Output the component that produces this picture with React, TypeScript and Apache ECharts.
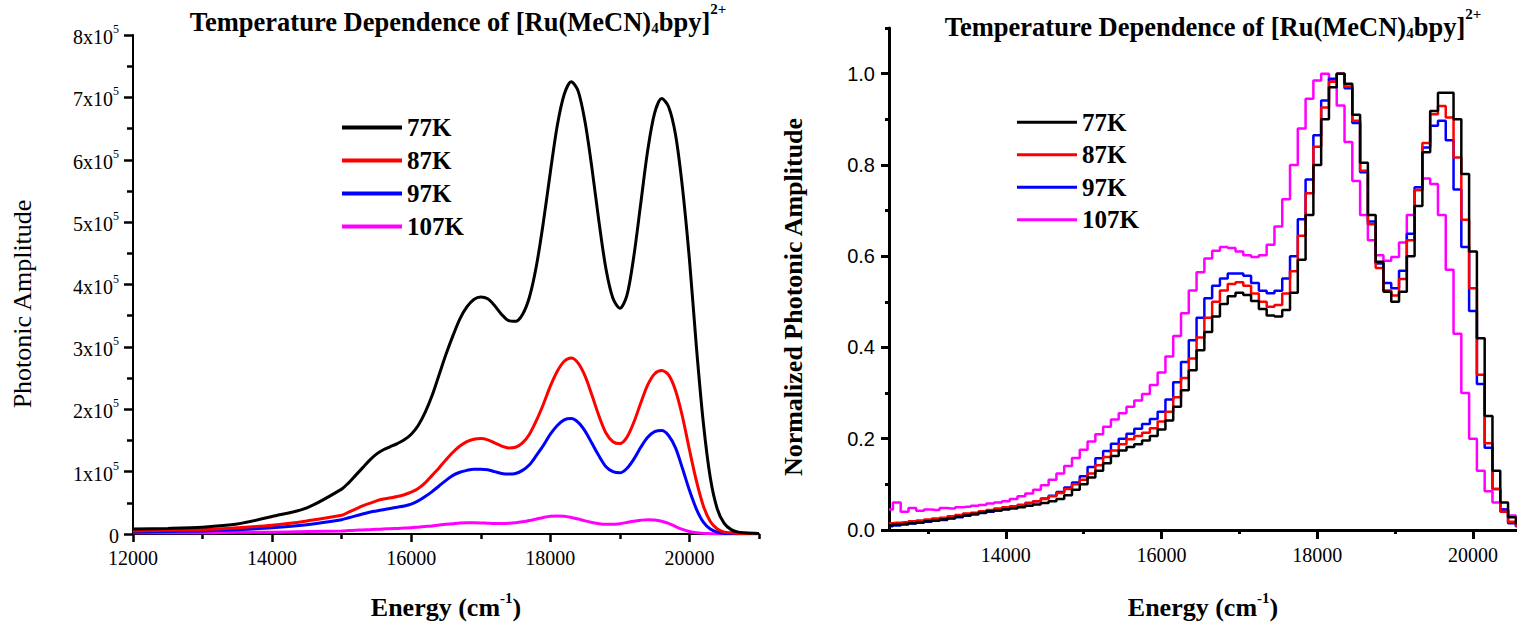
import React, { useEffect, useRef } from 'react';
import * as echarts from 'echarts';

const SERIF = '"Liberation Serif", "Times New Roman", serif';
const SANS = '"Liberation Sans", Arial, sans-serif';

// ---------- Left panel: raw amplitude (units of 10^5) ----------
const LEFT_ENERGY = [
  12000, 12500, 13000, 13500, 14000, 14500,
  15000, 15100, 15200, 15300, 15400, 15500, 15600, 15700, 15800, 15900,
  16000, 16100, 16200, 16300, 16400, 16500, 16600, 16700, 16800, 16900,
  17000, 17100, 17200, 17300, 17400, 17500, 17600, 17700, 17800, 17900,
  18000, 18100, 18200, 18300, 18400, 18500, 18600, 18700, 18800, 18900,
  19000, 19100, 19200, 19300, 19400, 19500, 19600, 19700, 19800, 19900,
  20000, 20100, 20200, 20300, 20400, 20500, 20600, 20700, 20800,
  21000,
];
const LEFT_77K = [
  0.08, 0.09, 0.11, 0.16, 0.28, 0.42,
  0.72, 0.82, 0.94, 1.06, 1.18, 1.28, 1.35, 1.40, 1.45, 1.51,
  1.60, 1.74, 1.95, 2.22, 2.55, 2.88, 3.18, 3.45, 3.64, 3.76,
  3.80, 3.77, 3.66, 3.52, 3.42, 3.41, 3.52, 3.80, 4.30, 5.00,
  5.80, 6.55, 7.05, 7.25, 7.10, 6.60, 5.85, 5.00, 4.25, 3.78,
  3.62, 3.82, 4.45, 5.30, 6.15, 6.75, 6.98, 6.85, 6.40, 5.55,
  4.40, 3.00, 1.78, 0.90, 0.40, 0.17, 0.07, 0.03, 0.02,
  0.01,
];
const LEFT_87K = [
  0.05, 0.06, 0.07, 0.10, 0.14, 0.21,
  0.30, 0.35, 0.40, 0.45, 0.49, 0.53, 0.56, 0.58, 0.60, 0.63,
  0.67, 0.73, 0.82, 0.94, 1.06, 1.19, 1.31, 1.41, 1.48, 1.52,
  1.53, 1.51, 1.46, 1.41, 1.38, 1.39, 1.46, 1.60, 1.82, 2.08,
  2.37, 2.61, 2.77, 2.82, 2.74, 2.53, 2.22, 1.89, 1.62, 1.48,
  1.45, 1.55, 1.79, 2.10, 2.39, 2.57, 2.62, 2.55, 2.30, 1.88,
  1.35, 0.85, 0.45, 0.20, 0.08, 0.03, 0.02, 0.01, 0.01,
  0.01,
];
const LEFT_97K = [
  0.03, 0.04, 0.05, 0.07, 0.10, 0.15,
  0.23, 0.26, 0.29, 0.32, 0.35, 0.37, 0.39, 0.41, 0.43, 0.45,
  0.48, 0.53, 0.60, 0.68, 0.77, 0.86, 0.94, 0.99, 1.02, 1.04,
  1.04, 1.03, 1.00, 0.97, 0.96, 0.97, 1.02, 1.11, 1.26, 1.42,
  1.60, 1.74, 1.83, 1.85, 1.79, 1.65, 1.45, 1.25, 1.08, 1.00,
  0.98, 1.05, 1.20, 1.39, 1.55, 1.64, 1.66, 1.58, 1.38, 1.05,
  0.70, 0.40, 0.19, 0.08, 0.03, 0.01, 0.01, 0.01, 0.01,
  0.01,
];
const LEFT_107K = [
  0.02, 0.02, 0.02, 0.03, 0.03, 0.04,
  0.05, 0.055, 0.06, 0.065, 0.07, 0.075, 0.08, 0.085, 0.09, 0.095,
  0.10, 0.11, 0.12, 0.13, 0.145, 0.155, 0.165, 0.175, 0.18, 0.18,
  0.178, 0.172, 0.168, 0.168, 0.172, 0.18, 0.195, 0.215, 0.24, 0.265,
  0.285, 0.29, 0.285, 0.265, 0.24, 0.21, 0.185, 0.165, 0.155, 0.155,
  0.165, 0.185, 0.205, 0.22, 0.23, 0.225, 0.205, 0.17, 0.12, 0.075,
  0.04, 0.02, 0.01, 0.005, 0, 0, 0, 0, 0,
  0,
];
const LEFT_X_MAJOR = [12000, 14000, 16000, 18000, 20000];
const LEFT_X_MINOR = [13000, 15000, 17000, 19000, 21000];
const LEFT_Y_MAJOR = [0, 1, 2, 3, 4, 5, 6, 7, 8];
const LEFT_Y_MINOR = [0.5, 1.5, 2.5, 3.5, 4.5, 5.5, 6.5, 7.5];

// ---------- Right panel: normalized amplitude ----------
const RIGHT_ENERGY = [
  12500, 12600, 12700, 12800, 12900,
  13000, 13100, 13200, 13300, 13400, 13500, 13600, 13700, 13800, 13900,
  14000, 14100, 14200, 14300, 14400, 14500, 14600, 14700, 14800, 14900,
  15000, 15100, 15200, 15300, 15400, 15500, 15600, 15700, 15800, 15900,
  16000, 16100, 16200, 16300, 16400, 16500, 16600, 16700, 16800, 16900,
  17000, 17100, 17200, 17300, 17400, 17500, 17600, 17700, 17800, 17900,
  18000, 18100, 18200, 18300, 18400, 18500, 18600, 18700, 18800, 18900,
  19000, 19100, 19200, 19300, 19400, 19500, 19600, 19700, 19800, 19900,
  20000, 20100, 20200, 20300, 20400, 20500, 20600,
];
const RIGHT_77K = [
  0.010, 0.012, 0.013, 0.015, 0.017,
  0.019, 0.021, 0.023, 0.026, 0.029, 0.032, 0.035, 0.038, 0.041, 0.043,
  0.045, 0.047, 0.050, 0.053, 0.056, 0.059, 0.063, 0.068, 0.076, 0.088,
  0.100, 0.115, 0.130, 0.146, 0.162, 0.174, 0.182, 0.188, 0.196, 0.206,
  0.220, 0.240, 0.270, 0.306, 0.350, 0.394, 0.434, 0.468, 0.495, 0.512,
  0.520, 0.515, 0.502, 0.484, 0.470, 0.468, 0.482, 0.520, 0.592, 0.690,
  0.800, 0.900, 0.970, 1.000, 0.978, 0.910, 0.805, 0.690, 0.588, 0.522,
  0.500, 0.522, 0.600, 0.710, 0.828, 0.918, 0.958, 0.958, 0.900, 0.780,
  0.610, 0.420, 0.250, 0.130, 0.060, 0.028, 0.015,
];
const RIGHT_87K = [
  0.015, 0.016, 0.017, 0.019, 0.021,
  0.023, 0.025, 0.027, 0.030, 0.033, 0.036, 0.038, 0.041, 0.044, 0.047,
  0.050, 0.052, 0.055, 0.059, 0.063, 0.068, 0.074, 0.081, 0.090, 0.100,
  0.110, 0.124, 0.142, 0.160, 0.174, 0.188, 0.199, 0.206, 0.213, 0.223,
  0.238, 0.259, 0.291, 0.333, 0.376, 0.422, 0.465, 0.500, 0.525, 0.539,
  0.543, 0.535, 0.518, 0.500, 0.489, 0.493, 0.518, 0.567, 0.645, 0.738,
  0.840, 0.926, 0.982, 1.000, 0.972, 0.897, 0.787, 0.670, 0.574, 0.525,
  0.514, 0.550, 0.635, 0.745, 0.848, 0.911, 0.929, 0.904, 0.816, 0.680,
  0.530, 0.340, 0.190, 0.090, 0.040, 0.018, 0.010,
];
const RIGHT_97K = [
  0.008, 0.010, 0.012, 0.014, 0.016,
  0.018, 0.020, 0.022, 0.025, 0.028, 0.031, 0.034, 0.037, 0.040, 0.043,
  0.047, 0.051, 0.055, 0.059, 0.063, 0.069, 0.075, 0.083, 0.093, 0.104,
  0.118, 0.138, 0.157, 0.173, 0.189, 0.200, 0.211, 0.222, 0.232, 0.243,
  0.259, 0.286, 0.324, 0.368, 0.416, 0.465, 0.508, 0.535, 0.551, 0.562,
  0.562, 0.557, 0.541, 0.524, 0.519, 0.524, 0.551, 0.600, 0.681, 0.768,
  0.865, 0.941, 0.989, 1.000, 0.968, 0.892, 0.784, 0.676, 0.584, 0.541,
  0.530, 0.568, 0.649, 0.751, 0.838, 0.886, 0.897, 0.854, 0.746, 0.620,
  0.480, 0.320, 0.180, 0.090, 0.045, 0.015, 0.008,
];
const RIGHT_107K = [
  0.045, 0.060, 0.040, 0.048, 0.042,
  0.045, 0.044, 0.048, 0.047, 0.050, 0.051, 0.053, 0.055, 0.058, 0.060,
  0.063, 0.068, 0.074, 0.080, 0.088, 0.098, 0.110, 0.124, 0.140, 0.158,
  0.176, 0.194, 0.210, 0.226, 0.242, 0.256, 0.270, 0.284, 0.298, 0.318,
  0.345, 0.380, 0.425, 0.475, 0.525, 0.565, 0.595, 0.612, 0.620, 0.618,
  0.610, 0.602, 0.598, 0.602, 0.625, 0.665, 0.725, 0.800, 0.880, 0.945,
  0.985, 1.000, 0.985, 0.930, 0.850, 0.765, 0.690, 0.635, 0.602, 0.590,
  0.598, 0.630, 0.690, 0.745, 0.770, 0.758, 0.690, 0.570, 0.430, 0.300,
  0.200, 0.130, 0.085, 0.060, 0.045, 0.032, 0.028,
];
const RIGHT_X_MAJOR = [14000, 16000, 18000, 20000];
const RIGHT_X_MINOR = [13000, 15000, 17000, 19000];
const RIGHT_Y_MAJOR = [0, 0.2, 0.4, 0.6, 0.8, 1.0];
const RIGHT_Y_MINOR = [0.1, 0.3, 0.5, 0.7, 0.9, 1.1];

const SERIES_NAMES = ['77K', '87K', '97K', '107K'];
const SERIES_COLORS = ['#000000', '#ff0000', '#0000ff', '#ff00ff'];
const TITLE_TEXT = '{t|Temperature Dependence of [Ru(MeCN)}{s|4}{t|bpy]}{p|2+}';
const X_NAME = '{t|Energy (cm}{p|-1}{t|)}';

const titleRich = {
  t: { fontFamily: SERIF, fontWeight: 'bold', fontSize: 26.5, lineHeight: 34, color: '#000', verticalAlign: 'bottom' },
  s: { fontFamily: SERIF, fontWeight: 'bold', fontSize: 15, lineHeight: 13, color: '#000', verticalAlign: 'bottom' },
  p: { fontFamily: SERIF, fontWeight: 'bold', fontSize: 15, lineHeight: 15, color: '#000', verticalAlign: 'top' },
};
const xNameRich = {
  t: { fontFamily: SERIF, fontWeight: 'bold', fontSize: 26, lineHeight: 30, color: '#000', verticalAlign: 'bottom' },
  p: { fontFamily: SERIF, fontWeight: 'bold', fontSize: 15, lineHeight: 15, color: '#000', verticalAlign: 'top' },
};

function pairs(xs: number[], ys: number[]) {
  return xs.map((x, i) => [x, ys[i]]);
}

function tickAxis(kind: 'x' | 'y', grid: number, min: number, max: number, values: number[], len: number, width: number) {
  return {
    type: 'value',
    gridIndex: grid,
    min,
    max,
    position: kind === 'x' ? 'bottom' : 'left',
    axisLine: { show: false },
    axisLabel: { show: false },
    splitLine: { show: false },
    axisTick: { show: true, inside: false, customValues: values, length: len, lineStyle: { color: '#000', width } },
  };
}

function buildOption() {
  const leftData = [LEFT_77K, LEFT_87K, LEFT_97K, LEFT_107K];
  const rightData = [RIGHT_77K, RIGHT_87K, RIGHT_97K, RIGHT_107K];
  const series: any[] = [];
  for (let i = 3; i >= 0; i--) {
    series.push({
      name: SERIES_NAMES[i],
      type: 'line',
      xAxisIndex: 0,
      yAxisIndex: 0,
      data: pairs(LEFT_ENERGY, leftData[i]),
      symbol: 'none',
      smooth: 0.3,
      color: SERIES_COLORS[i],
      lineStyle: { color: SERIES_COLORS[i], width: 3 },
    });
  }
  for (let i = 3; i >= 0; i--) {
    series.push({
      name: SERIES_NAMES[i],
      type: 'line',
      xAxisIndex: 1,
      yAxisIndex: 1,
      data: pairs(RIGHT_ENERGY, rightData[i]),
      symbol: 'none',
      step: 'middle',
      clip: true,
      color: SERIES_COLORS[i],
      lineStyle: { color: SERIES_COLORS[i], width: 2.5 },
    });
  }

  const legendItems = SERIES_NAMES.map((n) => ({ name: n, icon: 'rect' }));

  return {
    animation: false,
    backgroundColor: '#ffffff',
    title: [
      { text: TITLE_TEXT, left: 458, top: 1, padding: 0, textAlign: 'center', textStyle: { rich: titleRich } },
      { text: TITLE_TEXT, left: 1213, top: 6, padding: 0, textAlign: 'center', textStyle: { rich: titleRich } },
    ],
    legend: [
      {
        data: legendItems,
        orient: 'vertical',
        left: 342,
        top: 111,
        padding: 0,
        itemWidth: 60,
        itemHeight: 4,
        itemGap: 0,
        selectedMode: false,
        textStyle: { fontFamily: SERIF, fontWeight: 'bold', fontSize: 25, color: '#000', lineHeight: 33 },
      },
      {
        data: legendItems,
        orient: 'vertical',
        left: 1017,
        top: 106,
        padding: 0,
        itemWidth: 60,
        itemHeight: 3,
        itemGap: 0,
        selectedMode: false,
        textStyle: { fontFamily: SERIF, fontWeight: 'bold', fontSize: 25, color: '#000', lineHeight: 32.5 },
      },
    ],
    grid: [
      { left: 133, right: 758, top: 35, bottom: 86 },
      { left: 889, right: 0, top: 28, bottom: 90 },
    ],
    xAxis: [
      {
        type: 'value', gridIndex: 0, min: 12000, max: 21000, position: 'bottom',
        splitLine: { show: false },
        axisLine: { show: true, onZero: false, lineStyle: { color: '#000', width: 2 } },
        axisTick: { show: false },
        axisLabel: {
          show: true, customValues: LEFT_X_MAJOR, formatter: (v: number) => String(v), margin: 14,
          fontFamily: SERIF, fontSize: 20, color: '#000',
        },
        name: X_NAME, nameLocation: 'middle', nameGap: 56,
        nameTextStyle: { rich: xNameRich },
      },
      {
        type: 'value', gridIndex: 1, min: 12500, max: 20565, position: 'bottom',
        splitLine: { show: false },
        axisLine: { show: true, onZero: false, lineStyle: { color: '#000', width: 3 } },
        axisTick: { show: false },
        axisLabel: {
          show: true, customValues: RIGHT_X_MAJOR, formatter: (v: number) => String(v), margin: 15,
          fontFamily: SERIF, fontSize: 20, color: '#000',
        },
        name: X_NAME, nameLocation: 'middle', nameGap: 60,
        nameTextStyle: { rich: xNameRich },
      },
      tickAxis('x', 0, 12000, 21000, LEFT_X_MAJOR, 8, 2.5),
      tickAxis('x', 0, 12000, 21000, LEFT_X_MINOR, 5, 2.5),
      tickAxis('x', 1, 12500, 20565, RIGHT_X_MAJOR, 9, 3),
      tickAxis('x', 1, 12500, 20565, RIGHT_X_MINOR, 4, 3),
    ],
    yAxis: [
      {
        type: 'value', gridIndex: 0, min: 0, max: 8, position: 'left',
        splitLine: { show: false },
        axisLine: { show: true, onZero: false, lineStyle: { color: '#000', width: 2 } },
        axisTick: { show: false },
        axisLabel: {
          show: true, customValues: LEFT_Y_MAJOR, margin: 14,
          formatter: (v: number) => (v === 0 ? '{a|0}' : `{a|${v}x10}{b|5}`),
          rich: {
            a: { fontFamily: SERIF, fontSize: 20, lineHeight: 24, color: '#000', verticalAlign: 'bottom' },
            b: { fontFamily: SERIF, fontSize: 12, lineHeight: 12, color: '#000', verticalAlign: 'top' },
          },
        },
      },
      {
        type: 'value', gridIndex: 1, min: 0, max: 1.1, position: 'left',
        splitLine: { show: false },
        axisLine: { show: true, onZero: false, lineStyle: { color: '#000', width: 3 } },
        axisTick: { show: false },
        axisLabel: {
          show: true, customValues: RIGHT_Y_MAJOR, margin: 14,
          formatter: (v: number) => v.toFixed(1),
          fontFamily: SANS, fontSize: 20, color: '#000',
        },
      },
      tickAxis('y', 0, 0, 8, LEFT_Y_MAJOR, 9, 2.5),
      tickAxis('y', 0, 0, 8, LEFT_Y_MINOR, 6, 2.5),
      tickAxis('y', 1, 0, 1.1, RIGHT_Y_MAJOR, 8, 3),
      tickAxis('y', 1, 0, 1.1, RIGHT_Y_MINOR, 4, 3),
    ],
    graphic: [
      {
        type: 'text', x: 22, y: 304, rotation: Math.PI / 2,
        style: {
          text: 'Photonic Amplitude', fontFamily: SERIF, fontSize: 26, fill: '#000',
          align: 'center', verticalAlign: 'middle',
        },
      },
      {
        type: 'text', x: 793, y: 297, rotation: Math.PI / 2,
        style: {
          text: 'Normalized Photonic Amplitude', fontFamily: SERIF, fontSize: 26, fontWeight: 'bold', fill: '#000',
          align: 'center', verticalAlign: 'middle',
        },
      },
    ],
    series,
  };
}

export default function App() {
  const ref = useRef<HTMLDivElement>(null);
  useEffect(() => {
    if (!ref.current) return;
    const chart = echarts.init(ref.current, null, { renderer: 'svg' });
    chart.setOption(buildOption() as any);
    return () => chart.dispose();
  }, []);
  return (
    <div
      ref={ref}
      style={{ position: 'absolute', left: 0, top: 0, width: 1517, height: 625, background: '#fff' }}
    />
  );
}
